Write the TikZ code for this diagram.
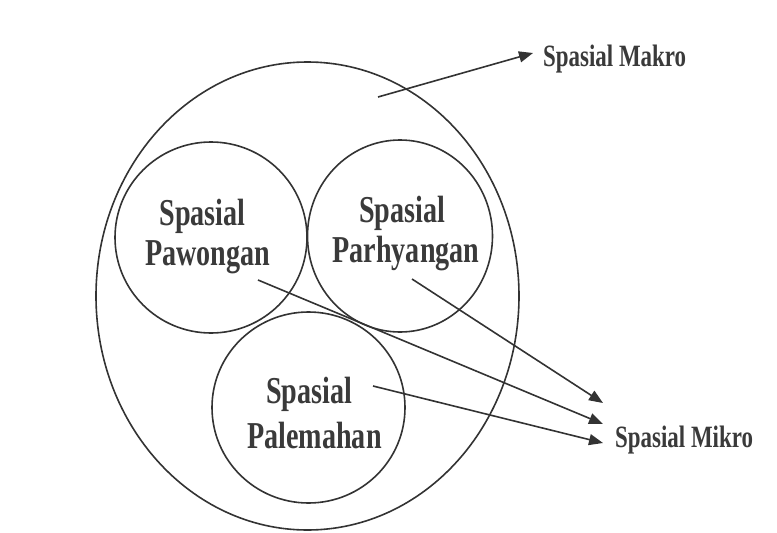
\documentclass[tikz,border=0pt]{standalone}
\usepackage{fontspec}
\usetikzlibrary{arrows.meta,shapes.geometric}
\newfontfamily\lblfont[FakeStretch=0.74]{Liberation Serif}
\definecolor{ink}{HTML}{333333}
\definecolor{txt}{HTML}{3A3A3A}
\tikzset{
  ring/.style={ellipse, draw=ink, line width=1.6pt, inner sep=0pt},
  inlbl/.style={anchor=base, inner sep=0pt, text=txt, font=\lblfont\bfseries\fontsize{38}{40}\selectfont},
  outlbl/.style={anchor=base west, inner sep=0pt, text=txt, font=\lblfont\bfseries\fontsize{31}{34}\selectfont},
  arr/.style={draw=ink, line width=1.6pt, -{Triangle[length=14pt,width=11pt]}}
}
\begin{document}
\begin{tikzpicture}[x=1pt,y=-1pt]
\useasboundingbox (0,0) rectangle (777,533);
% circles
\node[ring, minimum width=423pt, minimum height=468pt] (makro) at (307.5,296) {};
\node[ring, minimum width=192pt, minimum height=191pt] (pawongan) at (211,237.5) {};
\node[ring, minimum width=185pt, minimum height=192pt] (parhyangan) at (400,236) {};
\node[ring, minimum width=193pt, minimum height=191pt] (palemahan) at (308.5,407.5) {};
% inner labels
\node[inlbl] (pawA) at (202.5,225) {Spasial};
\node[inlbl] (pawB) at (207.5,265) {Pawongan};
\node[inlbl] (parA) at (402,222) {Spasial};
\node[inlbl] (parB) at (406,262) {Parhyangan};
\node[inlbl] (palA) at (309,403) {Spasial};
\node[inlbl] (palB) at (314.5,448) {Palemahan};
% outer labels
\node[outlbl] (lblMakro) at (543,66) {Spasial Makro};
\node[outlbl] (lblMikro) at (615,447) {Spasial Mikro};
% arrow ends
\coordinate (sMakro) at (378,97);
\coordinate (tMakro) at (533,53);
\coordinate (sPar) at (412,279);
\coordinate (tPar) at (603,403);
\coordinate (sPaw) at (258,280);
\coordinate (tPaw) at (603,424);
\coordinate (sPal) at (373,386);
\coordinate (tPal) at (603,443);
\draw[arr] (sMakro) -- (tMakro);
\draw[arr] (sPar) -- (tPar);
\draw[arr] (sPaw) -- (tPaw);
\draw[arr] (sPal) -- (tPal);
\end{tikzpicture}
\end{document}
